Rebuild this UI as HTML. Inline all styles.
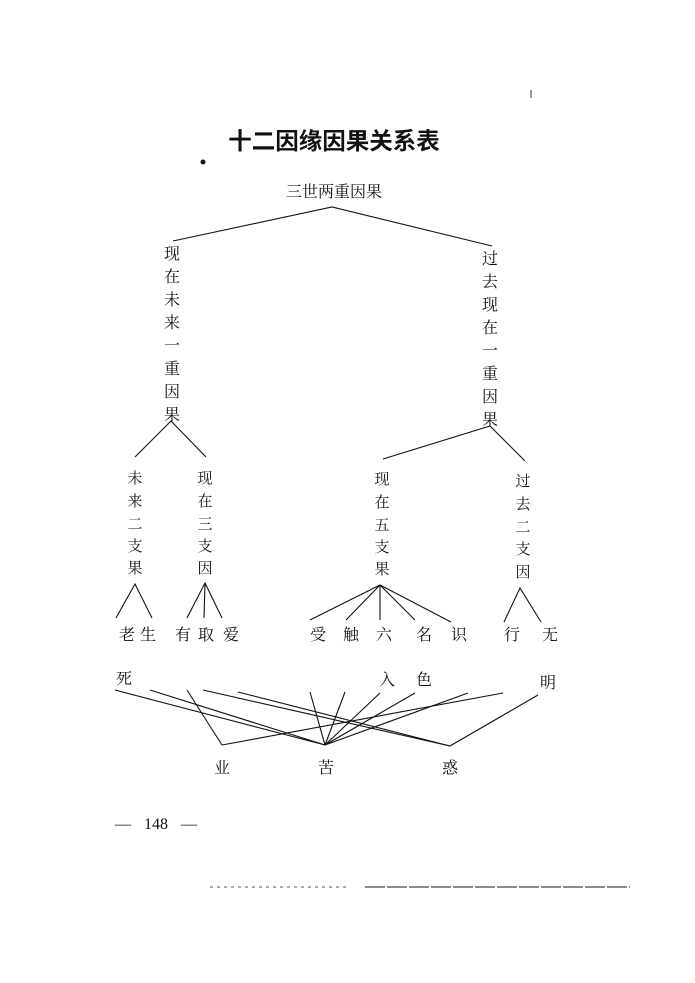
<!DOCTYPE html>
<html><head><meta charset="utf-8"><style>
html,body{margin:0;padding:0;background:#fff;}
svg{display:block;}
text{font-family:"Liberation Serif","Noto Serif CJK SC","Noto Sans CJK SC",serif;fill:#111;}
</style></head><body>
<svg width="695" height="983" viewBox="0 0 695 983" xmlns="http://www.w3.org/2000/svg">
<rect width="695" height="983" fill="#fff"/>
<text x="334" y="149" font-size="23.5" font-weight="bold" text-anchor="middle" style="font-family:'Noto Sans CJK SC',sans-serif">十二因缘因果关系表</text>
<circle cx="203" cy="162" r="2.5" fill="#111"/>
<text x="334" y="197" font-size="16" text-anchor="middle">三世两重因果</text>
<g stroke="#111" stroke-width="1.1" fill="none">
<polyline points="173,241 332,207 492,246"/>
<polyline points="135,457 171,421 206,457"/>
<polyline points="383,459 490,426 525,461"/>
<polyline points="116,618 135,584 152,618"/>
<polyline points="187,618 205,583 222,618"/>
<line x1="205" y1="583" x2="204" y2="618"/>
<line x1="380" y1="585" x2="310" y2="620"/>
<line x1="380" y1="585" x2="346" y2="620"/>
<line x1="380" y1="585" x2="380" y2="620"/>
<line x1="380" y1="585" x2="415" y2="620"/>
<line x1="380" y1="585" x2="451" y2="622"/>
<polyline points="504,622 520,588 541,622"/>
<line x1="115" y1="690" x2="325" y2="745"/>
<line x1="150" y1="690" x2="325" y2="745"/>
<line x1="187" y1="690" x2="222" y2="745"/>
<line x1="203" y1="690" x2="450" y2="746"/>
<line x1="238" y1="692" x2="450" y2="746"/>
<line x1="310" y1="692" x2="325" y2="745"/>
<line x1="345" y1="692" x2="325" y2="745"/>
<line x1="380" y1="693" x2="325" y2="745"/>
<line x1="415" y1="693" x2="325" y2="745"/>
<line x1="468" y1="693" x2="325" y2="745"/>
<line x1="503" y1="693" x2="222" y2="745"/>
<line x1="538" y1="695" x2="450" y2="746"/>
</g>
<g font-size="16" text-anchor="middle">
<text x="172" y="259">现</text><text x="172" y="282">在</text><text x="172" y="305">未</text><text x="172" y="328">来</text><text x="172" y="351">一</text><text x="172" y="374">重</text><text x="172" y="397">因</text><text x="172" y="420">果</text>
<text x="490" y="264">过</text><text x="490" y="287">去</text><text x="490" y="310">现</text><text x="490" y="333">在</text><text x="490" y="356">一</text><text x="490" y="379">重</text><text x="490" y="402">因</text><text x="490" y="425">果</text>
</g>
<g font-size="15" text-anchor="middle">
<text x="135" y="483">未</text><text x="135" y="506">来</text><text x="135" y="529">二</text><text x="135" y="551">支</text><text x="135" y="573">果</text>
<text x="205" y="483">现</text><text x="205" y="506">在</text><text x="205" y="529">三</text><text x="205" y="551">支</text><text x="205" y="573">因</text>
<text x="382" y="484">现</text><text x="382" y="507">在</text><text x="382" y="530">五</text><text x="382" y="552">支</text><text x="382" y="574">果</text>
<text x="523" y="486">过</text><text x="523" y="509">去</text><text x="523" y="532">二</text><text x="523" y="554">支</text><text x="523" y="577">因</text>
</g>
<g font-size="16" text-anchor="middle">
<text x="127" y="640">老</text><text x="148" y="640">生</text>
<text x="183" y="640">有</text><text x="206" y="640">取</text><text x="231" y="640">爱</text>
<text x="318" y="640">受</text><text x="351" y="640">触</text><text x="384" y="640">六</text><text x="424" y="640">名</text><text x="459" y="640">识</text>
<text x="512" y="640">行</text><text x="550" y="640">无</text>
<text x="124" y="684">死</text><text x="387" y="685">入</text><text x="424" y="685">色</text><text x="548" y="688">明</text>
<text x="222" y="773">业</text><text x="326" y="773">苦</text><text x="450" y="773">惑</text>
</g>
<text x="115" y="829" font-size="16" word-spacing="9">— 148 —</text>
<line x1="210" y1="887" x2="350" y2="887" stroke="#555" stroke-width="1" stroke-dasharray="3,4"/>
<line x1="365" y1="887" x2="630" y2="887" stroke="#444" stroke-width="1.2" stroke-dasharray="20,2"/>
<line x1="531" y1="90" x2="531" y2="98" stroke="#333" stroke-width="1"/>
</svg>
</body></html>
